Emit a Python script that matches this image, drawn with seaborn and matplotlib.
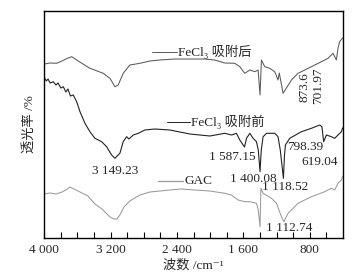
import numpy as np
import pandas as pd
import matplotlib
matplotlib.use('Agg')
import matplotlib.pyplot as plt
import seaborn as sns

# wavenumber (cm-1) and transmittance (arbitrary, stacked)
wn_after = [4000, 3931, 3851, 3787, 3727, 3670, 3610, 3534, 3450, 3378, 3290, 3209, 3149,
            3109, 3089, 3049, 2969, 2848, 2727, 2607, 2426, 2246, 2065, 1945, 1824, 1704,
            1644, 1584, 1523, 1463, 1423, 1400, 1383, 1343, 1283, 1223, 1183, 1168, 1122,
            1090, 1021, 942, 861, 781, 660, 581, 520, 480, 460, 440, 405]
t_after = [186, 187, 186.7, 189, 191.5, 193.3, 190, 186, 181.7, 179.5, 176.7, 171.7, 163.3,
           165, 169, 176.7, 185, 186.7, 189, 190, 191, 191, 191, 190, 187, 186.7,
           183.3, 176.7, 180, 178.3, 180, 155, 190, 183.3, 181.7, 178.3, 170, 177, 156.7,
           161, 170, 176.7, 180, 183.3, 188.3, 191.7, 196.7, 190, 202, 208.3, 212]

wn_before = [4000, 3975, 3955, 3930, 3892, 3860, 3835, 3800, 3771, 3740, 3715, 3685, 3651,
             3610, 3570, 3510, 3450, 3390, 3309, 3249, 3189, 3149, 3089, 3049, 3008, 2980,
             2928, 2868, 2788, 2667, 2487, 2246, 2005, 1824, 1744, 1684, 1644, 1604, 1587,
             1563, 1523, 1484, 1443, 1421, 1400, 1385, 1363, 1322, 1222, 1183, 1156, 1118,
             1105, 1094, 1042, 901, 781, 681, 654, 633, 600, 540, 500, 460, 419, 405]
t_before = [172.7, 169, 171, 167, 168.3, 165, 167, 162, 163.3, 158, 161, 154, 155,
            148.3, 138.3, 126.7, 118.3, 111.7, 108.3, 103.3, 95, 91.7, 96.7, 108.3, 113.3, 111,
            115, 116.7, 120, 121, 120, 116, 114, 116.7, 115, 116.7, 110, 105, 103,
            111.7, 116.7, 111.7, 108.3, 100, 78.3, 100, 113.3, 116.7, 116.7, 113.3, 100, 71.7,
            95, 105, 111.7, 118.3, 121.7, 125, 123.3, 108.3, 115, 113.3, 111.7, 115, 118.3, 122]

wn_gac = [4000, 3931, 3859, 3787, 3739, 3691, 3642, 3570, 3474, 3390, 3305, 3209, 3161,
          3125, 3089, 3041, 2969, 2848, 2727, 2607, 2487, 2354, 2186, 2005, 1824, 1744,
          1664, 1584, 1523, 1443, 1421, 1400, 1389, 1363, 1262, 1202, 1142, 1112, 1062,
          942, 781, 620, 540, 500, 460, 419, 405]
t_gac = [56, 57, 56, 58, 60, 63, 61, 58, 54, 46, 41, 33, 31,
         31, 35, 43, 49, 55, 58, 59, 60, 61, 60, 59, 56.7, 55,
         50, 48.3, 48.3, 46.7, 40, 23.3, 61.7, 56.7, 51.7, 46.7, 33.3, 28.3, 36.7,
         46.7, 53.3, 58.3, 61.7, 60, 66.7, 70, 74]

peaks = ['3 149.23', '1 587.15', '1 400.08', '1 118.52', '1 112.74', '798.39', '619.04']
peaks_rot = ['873.6', '701.97']
xticks = [4000, 3200, 2400, 1600, 800]
xtick_labels = ['4 000', '3 200', '2 400', '1 600', '800']

sns.set_style('white')
plt.rcParams['font.family'] = ['Liberation Serif', 'Noto Sans CJK SC', 'DejaVu Sans']

fig = plt.figure(figsize=(3.62, 2.78), dpi=100)
ax = fig.add_axes([0.1224, 0.1439, 0.8251, 0.8165])

sns.lineplot(x=wn_after, y=t_after, ax=ax, color='#5a5a5a', lw=0.75, estimator=None, sort=False)
sns.lineplot(x=wn_before, y=t_before, ax=ax, color='#222222', lw=0.8, estimator=None, sort=False)
sns.lineplot(x=wn_gac, y=t_gac, ax=ax, color='#999999', lw=0.75, estimator=None, sort=False)

ax.set_xlim(4000, 400)
ax.set_ylim(12, 239)
ax.set_xticks(xticks)
ax.set_xticklabels(xtick_labels, fontsize=9.5)
ax.set_xticks(np.arange(600, 4000, 200), minor=True)
ax.tick_params(axis='x', which='both', direction='in', length=4, width=0.8,
               bottom=True, top=False, color='black', pad=4)
ax.set_yticks([])
for s in ax.spines.values():
    s.set_color('black')
    s.set_linewidth(1.0)

ax.set_xlabel('波数 /cm⁻¹', fontsize=9.5, labelpad=3)
ax.set_ylabel('透光率 /%', fontsize=9.5, labelpad=6)

tr = ax.transAxes
# curve labels with leader lines
ax.plot([0.360, 0.444], [0.819, 0.819], color='#5a5a5a', lw=0.7, transform=tr)
ax.text(0.446, 0.819, 'FeCl₃ 吸附后', transform=tr, fontsize=9.5, va='center', ha='left')
ax.plot([0.411, 0.488], [0.511, 0.511], color='#222222', lw=0.7, transform=tr)
ax.text(0.490, 0.511, 'FeCl₃ 吸附前', transform=tr, fontsize=9.5, va='center', ha='left')
ax.plot([0.381, 0.466], [0.251, 0.251], color='#999999', lw=0.9, transform=tr)
ax.text(0.470, 0.251, 'GAC', transform=tr, fontsize=9.5, va='center', ha='left')

pos = [(0.237, 0.295), (0.628, 0.357), (0.699, 0.262), (0.806, 0.225),
       (0.819, 0.044), (0.873, 0.401), (0.923, 0.335)]
for lab, (px, py) in zip(peaks, pos):
    ax.text(px, py, lab, transform=tr, fontsize=9.5, ha='center', va='center')
for lab, (px, py) in zip(peaks_rot, [(0.870, 0.665), (0.917, 0.670)]):
    ax.text(px, py, lab, transform=tr, fontsize=9.5, ha='center', va='center', rotation=90)

fig.savefig('out.png', dpi=100)
